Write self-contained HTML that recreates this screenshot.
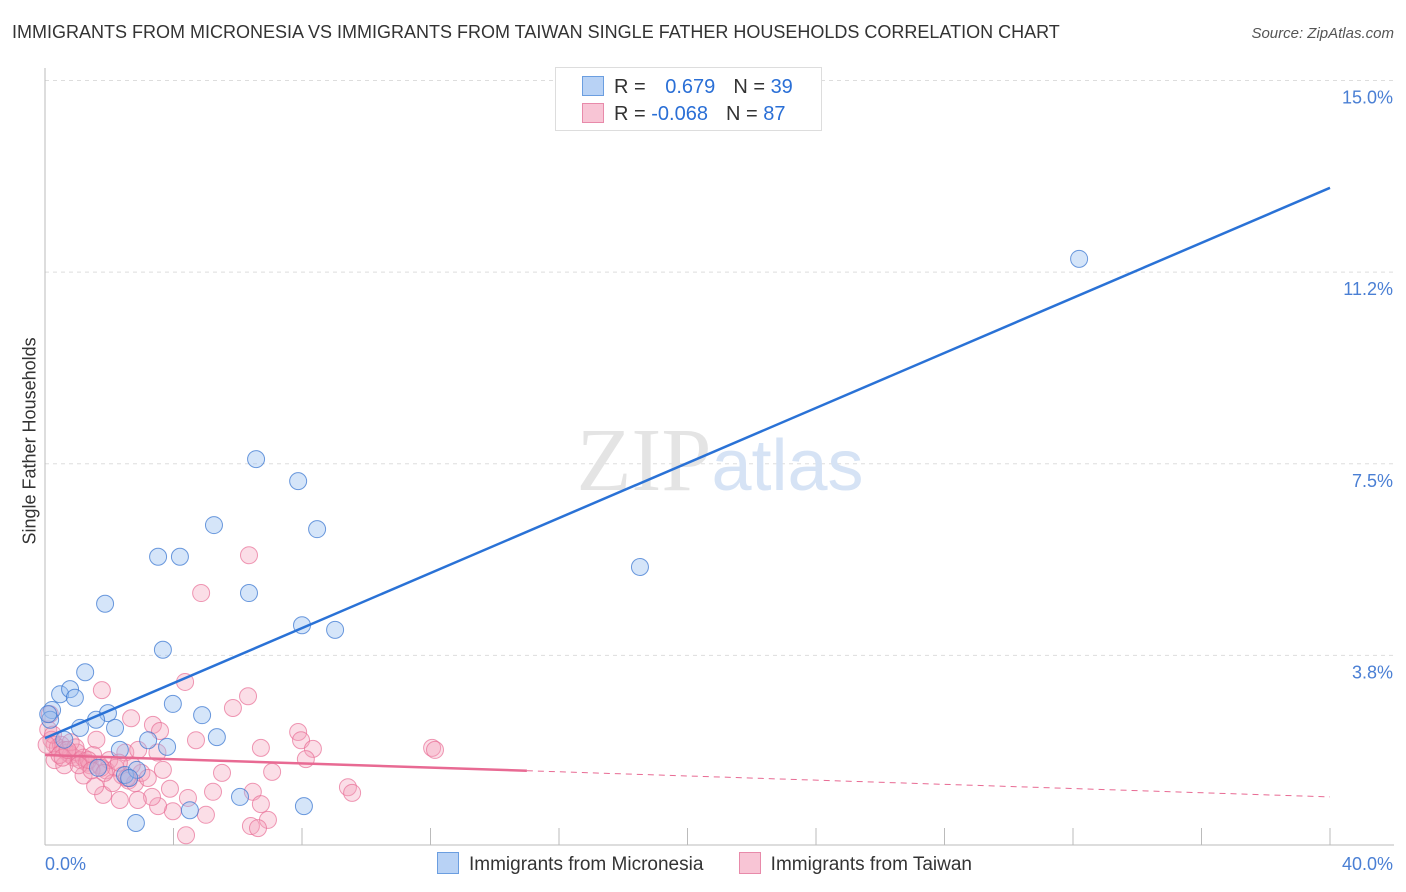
<!DOCTYPE html>
<html><head><meta charset="utf-8"><style>
body{margin:0;background:#fff;font-family:"Liberation Sans",sans-serif;}
#wrap{position:relative;width:1406px;height:892px;overflow:hidden;}
.t{position:absolute;white-space:nowrap;}
</style></head><body>
<div id="wrap">
<div class="t" style="left:12px;top:22px;font-size:18px;color:#333;">IMMIGRANTS FROM MICRONESIA VS IMMIGRANTS FROM TAIWAN SINGLE FATHER HOUSEHOLDS CORRELATION CHART</div>
<div class="t" style="right:12px;top:25px;font-size:15px;color:#555;font-style:italic;">Source: ZipAtlas.com</div>
<svg id="svg" width="1406" height="892" style="position:absolute;left:0;top:0"></svg>
</div>
<script>
const xTicks=[0,40];
const yTicks=[3.75,7.5,11.25,15];
const yTickLabels=["3.8%","7.5%","11.2%","15.0%"];
const blueX=[32.19,6.57,7.88,5.26,8.47,3.52,4.20,18.52,1.87,6.35,8.0,9.03,3.67,1.25,0.47,0.78,0.93,0.22,1.96,3.98,4.89,1.59,1.09,2.18,5.35,3.21,3.80,2.33,1.65,2.49,2.86,2.62,6.07,4.51,8.06,2.83,0.16,0.1,0.6];
const blueY=[11.51,7.59,7.16,6.30,6.22,5.68,5.68,5.48,4.76,4.97,4.34,4.25,3.86,3.42,2.99,3.09,2.92,2.68,2.62,2.80,2.58,2.49,2.33,2.33,2.15,2.09,1.96,1.90,1.55,1.41,1.51,1.35,0.98,0.72,0.80,0.47,2.49,2.6,2.1];
const pinkX=[6.35,4.86,1.77,4.36,6.32,5.85,2.68,3.36,3.58,4.70,6.72,7.88,7.97,8.34,8.12,5.51,7.07,3.67,3.89,4.45,5.23,6.47,6.72,6.94,6.41,6.63,4.39,5.01,3.98,3.52,3.33,2.89,2.33,1.81,1.56,9.43,9.56,12.05,12.14,0.1,0.2,0.3,0.4,0.5,0.6,0.7,0.8,0.9,1.0,1.1,1.2,1.3,1.4,1.5,1.7,1.9,2.0,2.2,2.4,2.6,2.8,3.0,3.2,0.3,0.6,0.8,1.2,2.5,2.9,3.5,1.6,2.1,2.7,0.15,0.45,0.95,1.35,1.75,2.3,0.25,0.55,1.05,1.45,1.85,2.55,0.05,0.7];
const pinkY=[5.71,4.97,3.07,3.23,2.95,2.72,2.52,2.39,2.27,2.09,1.94,2.25,2.09,1.92,1.72,1.45,1.47,1.51,1.14,0.96,1.08,1.08,0.84,0.53,0.41,0.37,0.23,0.63,0.70,0.80,0.98,0.92,0.92,1.02,1.19,1.17,1.06,1.94,1.90,2.3,2.1,2.0,1.95,2.0,1.9,1.85,1.8,1.75,1.85,1.7,1.75,1.65,1.6,1.8,1.6,1.5,1.7,1.55,1.4,1.3,1.25,1.45,1.35,1.7,1.6,2.05,1.4,1.85,1.9,1.85,2.1,1.25,1.6,2.6,1.8,1.95,1.7,1.55,1.65,2.2,1.75,1.6,1.5,1.45,1.35,2.0,1.9];
const blueLine=[2.13,12.9];
const pinkLine=[1.8,0.98];
const pinkSolidEnd=15;
const X=v=>45+v*32.125, Y=v=>847-v*51.1;
const svg=document.getElementById('svg');
const NS='http://www.w3.org/2000/svg';
function mk(tag,at,parent){const e=document.createElementNS(NS,tag);for(const k in at)e.setAttribute(k,at[k]);(parent||svg).appendChild(e);return e;}
// gridlines
yTicks.forEach((v,i)=>{
 const g=mk('line',{x1:45,x2:1394,y1:Y(v),y2:Y(v),stroke:'#ddd','stroke-dasharray':'4,4'});
 
 
 const t=mk('text',{x:1393,y:Y(v)+23,'text-anchor':'end','font-size':18,fill:'#4a7fd4','font-family':'Liberation Sans'});
 t.textContent=yTickLabels[i];
 
 
});
const ax=mk('line',{x1:45,x2:45,y1:68,y2:845,stroke:'#bbb'});


const bx=mk('line',{x1:45,x2:1394,y1:845,y2:845,stroke:'#bbb'});


for(let i=1;i<=10;i++){
 const tk=mk('line',{x1:X(i*4),x2:X(i*4),y1:828,y2:845,stroke:'#bbb'});
 
 
}
xTicks.forEach((v,i)=>{
 const t=mk('text',{x:i?1393:45,y:870,'text-anchor':i?'end':'start','font-size':18,fill:'#4a7fd4','font-family':'Liberation Sans'});
 t.textContent=v.toFixed(1)+'%';
 
 
});
// watermark
const wm=mk('text',{x:720,y:490,'text-anchor':'middle','font-size':90,'font-family':'Liberation Serif',fill:'#e4e4e4'});
wm.innerHTML='ZIP<tspan fill="#d6e3f5" font-family="Liberation Sans" font-size="72">atlas</tspan>';


// points
pinkX.forEach((x,i)=>{
 const c=mk('circle',{cx:X(x),cy:Y(pinkY[i]),r:8.5,fill:'rgba(244,160,185,0.35)',stroke:'rgba(232,110,150,0.7)','stroke-width':1});
 
 
});
blueX.forEach((x,i)=>{
 const c=mk('circle',{cx:X(x),cy:Y(blueY[i]),r:8.5,fill:'rgba(150,190,240,0.4)',stroke:'rgba(60,120,210,0.75)','stroke-width':1});
 
 
});
// trend lines
const bl=mk('line',{x1:X(0),y1:Y(blueLine[0]),x2:X(40),y2:Y(blueLine[1]),stroke:'#2a72d6','stroke-width':2.5});


const pAt=v=>pinkLine[0]+(pinkLine[1]-pinkLine[0])*v/40;
const pl=mk('line',{x1:X(0),y1:Y(pAt(0)),x2:X(pinkSolidEnd),y2:Y(pAt(pinkSolidEnd)),stroke:'#e86a93','stroke-width':2.5});


const pd=mk('line',{x1:X(pinkSolidEnd),y1:Y(pAt(pinkSolidEnd)),x2:X(40),y2:Y(pAt(40)),stroke:'#e86a93','stroke-width':1,'stroke-dasharray':'6,5'});


</script>
<div class="t" style="left:-60px;top:444px;width:180px;text-align:center;transform:rotate(-90deg);font-size:18px;color:#333;">Single Father Households</div>
<div style="position:absolute;left:555px;top:67px;width:265px;height:62px;border:1px solid #ddd;background:#fff;font-size:20px;">
 <div style="position:absolute;left:26px;top:8px;white-space:nowrap;"><span style="display:inline-block;width:20px;height:18px;background:#b8d2f5;border:1px solid #6b9ee0;vertical-align:-3px;"></span><span style="color:#333;margin-left:10px;">R = </span><span style="color:#2a6fd6;margin-left:14px;">0.679</span><span style="color:#333;margin-left:18px;">N = </span><span style="color:#2a6fd6;">39</span></div>
 <div style="position:absolute;left:26px;top:35px;white-space:nowrap;"><span style="display:inline-block;width:20px;height:18px;background:#f8c5d5;border:1px solid #e88aaa;vertical-align:-3px;"></span><span style="color:#333;margin-left:10px;">R = </span><span style="color:#2a6fd6;">-0.068</span><span style="color:#333;margin-left:18px;">N = </span><span style="color:#2a6fd6;">87</span></div>
</div>
<div style="position:absolute;left:437px;top:852px;font-size:19px;color:#333;white-space:nowrap;">
 <span><span style="display:inline-block;width:20px;height:20px;background:#b8d2f5;border:1px solid #6b9ee0;vertical-align:-4px;margin-right:10px;"></span>Immigrants from Micronesia</span>
 <span style="margin-left:30px;"><span style="display:inline-block;width:20px;height:20px;background:#f8c5d5;border:1px solid #e88aaa;vertical-align:-4px;margin-right:10px;"></span>Immigrants from Taiwan</span>
</div>
</body></html>
